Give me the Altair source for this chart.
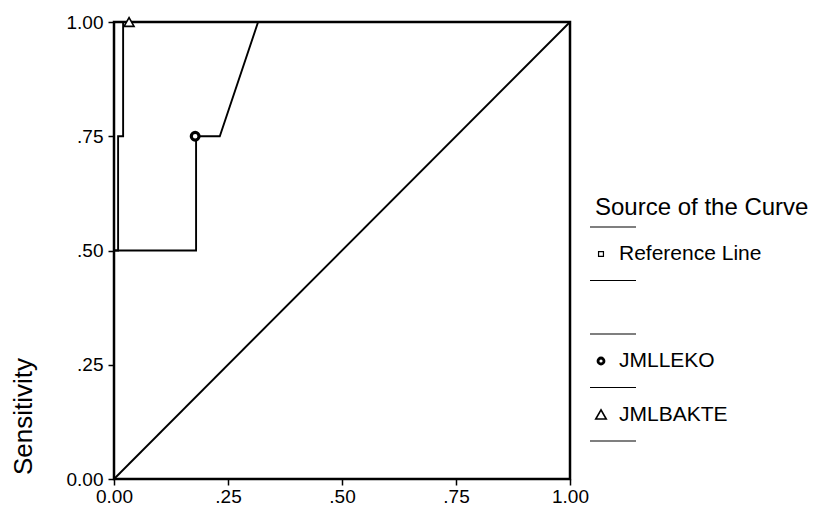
import altair as alt
import pandas as pd

# ---- data ----
ref_fpr = [0.0, 1.0]
ref_tpr = [0.0, 1.0]

leko_fpr = [0.0, 0.0, 0.18, 0.18, 0.232, 0.316, 1.0]
leko_tpr = [0.0, 0.5, 0.5, 0.75, 0.75, 1.0, 1.0]

bakte_fpr = [0.0, 0.0, 0.009, 0.009, 0.02, 0.02, 1.0]
bakte_tpr = [0.0, 0.5, 0.5, 0.75, 0.75, 1.0, 1.0]

marker_series = ["JMLLEKO", "JMLBAKTE"]
marker_fpr = [0.178, 0.033]
marker_tpr = [0.75, 1.0]

tick_values = [0.0, 0.25, 0.5, 0.75, 1.0]

legend_title = "Source of the Curve"
legend_labels = ["Reference Line", "JMLLEKO", "JMLBAKTE"]
legend_slots = [0, 2, 3]          # slot 1 is an empty row, as in the reference
separator_slots = [0, 1, 2, 3, 4]

FONT = "Liberation Sans"

# ---- tables ----
rows = []
for name, xs, ys in [("Reference Line", ref_fpr, ref_tpr),
                     ("JMLLEKO", leko_fpr, leko_tpr),
                     ("JMLBAKTE", bakte_fpr, bakte_tpr)]:
    for i, (a, b) in enumerate(zip(xs, ys)):
        rows.append({"series": name, "fpr": a, "tpr": b, "ord": i})
curves = pd.DataFrame(rows)
markers = pd.DataFrame({"series": marker_series, "fpr": marker_fpr, "tpr": marker_tpr})
leg_items = pd.DataFrame({"label": legend_labels, "slot": legend_slots})
leg_seps = pd.DataFrame({"slot": separator_slots})
leg_title = pd.DataFrame({"t": [legend_title]})

xscale = alt.Scale(domain=[0, 1], nice=False, zero=False, padding=0)
yscale = alt.Scale(domain=[0, 1], nice=False, zero=False, padding=0)
label_expr = ("datum.value == 0 ? '0.00' : (datum.value >= 1 ? '1.00' : "
              "slice(format(datum.value, '.2f'), 1))")

xaxis = alt.Axis(values=tick_values, labelExpr=label_expr, title=None, grid=False,
                 domain=False, tickSize=6, tickWidth=1.5, tickColor="black",
                 labelFont=FONT, labelFontSize=19, labelColor="black", labelPadding=2,
                 labelFlush=False, labelOverlap=False)
yaxis = alt.Axis(values=tick_values, labelExpr=label_expr, title="Sensitivity", grid=False,
                 domain=False, tickSize=6, tickWidth=1.5, tickColor="black",
                 labelFont=FONT, labelFontSize=19, labelColor="black", labelPadding=5,
                 labelFlush=False, labelOverlap=False,
                 titleFont=FONT, titleFontSize=26, titleFontWeight="normal",
                 titleColor="black", titleX=-91, titleY=394, titleAngle=270,
                 titleAlign="center", titleBaseline="middle")

lines = alt.Chart(curves).mark_line(color="black", strokeWidth=1.9).encode(
    x=alt.X("fpr:Q", scale=xscale, axis=xaxis),
    y=alt.Y("tpr:Q", scale=yscale, axis=yaxis),
    detail="series:N",
    order="ord:Q",
)

base_pts = alt.Chart(markers).encode(
    x=alt.X("fpr:Q", scale=xscale),
    y=alt.Y("tpr:Q", scale=yscale),
)
pt_circle = base_pts.transform_filter(alt.datum.series == "JMLLEKO").mark_point(
    shape="circle", size=60, strokeWidth=3.2, color="black", filled=False,
    fill="white", fillOpacity=1, opacity=1)
pt_tri = base_pts.transform_filter(alt.datum.series == "JMLBAKTE").mark_point(
    shape="triangle-up", size=100, strokeWidth=1.6, color="black", filled=False,
    fill="white", fillOpacity=1, opacity=1)

# ---- hand-drawn SPSS style legend (outside the plot area) ----
sep = alt.Chart(leg_seps).transform_calculate(py="205 + datum.slot * 53.5").mark_rule(
    color="black", strokeWidth=1.2).encode(
    x=alt.value(476), x2=alt.value(522),
    y=alt.Y("py:Q", scale=None, axis=None),
)

item_base = alt.Chart(leg_items).transform_calculate(py="232 + datum.slot * 53.5")

item_text = item_base.mark_text(
    align="left", baseline="middle", font=FONT, fontSize=21, color="black").encode(
    x=alt.value(505),
    y=alt.Y("py:Q", scale=None, axis=None),
    text="label:N",
)

sym_enc = dict(x=alt.value(487), y=alt.Y("py:Q", scale=None, axis=None))
sym_sq = item_base.transform_filter(alt.datum.label == "Reference Line").mark_point(
    shape="square", size=24, strokeWidth=1.2, color="black", filled=False,
    fill="white", fillOpacity=1, opacity=1).encode(**sym_enc)
sym_ci = item_base.transform_filter(alt.datum.label == "JMLLEKO").mark_point(
    shape="circle", size=36, strokeWidth=2.8, color="black", filled=False,
    fill="white", fillOpacity=1, opacity=1).encode(**sym_enc)
sym_tr = item_base.transform_filter(alt.datum.label == "JMLBAKTE").mark_point(
    shape="triangle-up", size=110, strokeWidth=1.6, color="black", filled=False,
    fill="white", fillOpacity=1, opacity=1).encode(**sym_enc)

title_text = alt.Chart(leg_title).mark_text(
    align="left", baseline="middle", font=FONT, fontSize=24, color="black").encode(
    x=alt.value(481), y=alt.value(186), text="t:N")

chart = alt.layer(lines, pt_circle, pt_tri, sep, item_text, sym_sq, sym_ci, sym_tr,
                  title_text).properties(
    width=456, height=457,
    autosize=alt.AutoSizeParams(type="none"),
    padding={"left": 106, "top": 14, "right": 258, "bottom": 30},
    background="white",
).configure_view(stroke="black", strokeWidth=2.5)

chart.save("out.html", embed_options={"renderer": "svg", "actions": False})
